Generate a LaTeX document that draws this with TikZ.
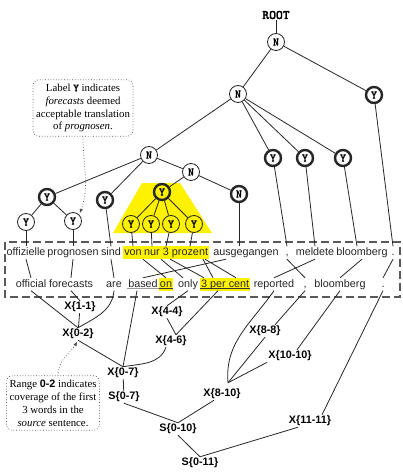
\documentclass[tikz,border=0pt]{standalone}
\usepackage{fontspec}
\setmainfont{Liberation Serif}
\setsansfont{Liberation Sans}
\newfontfamily\treefont[FakeBold=1.2]{lmmonolt10-bold.otf}
\usepackage{tikz}
\usetikzlibrary{positioning,arrows.meta,calc,backgrounds}

\begin{document}
\begin{tikzpicture}[
    x=1pt, y=-1pt,
    >=Latex,
    edge/.style    = {draw=black!85, line width=0.8pt},
    tnode/.style   = {circle, draw=black!85, line width=0.8pt, fill=white,
                      minimum size=17pt, inner sep=0pt,
                      font=\fontsize{11.5}{11.5}\treefont},
    tthick/.style  = {tnode, line width=2.4pt, minimum size=16pt},
    word/.style    = {anchor=base, inner sep=1pt, text height=8pt, text depth=2.5pt,
                      font=\fontsize{10.8}{12}\sffamily, text=black!85},
    cat/.style     = {inner sep=1pt, font=\fontsize{10.8}{12}\sffamily\bfseries},
    link/.style    = {draw=black!85, line width=0.8pt},
    uline/.style   = {draw=black!80, line width=0.6pt},
    frame/.style   = {draw=black!65, line width=1.3pt, dash pattern=on 8pt off 4pt},
    note/.style    = {rectangle, rounded corners=6pt, draw=black!70, dotted,
                      line width=0.7pt, align=center, inner xsep=3pt, inner ysep=4pt,
                      font=\fontsize{10.8}{12.9}\selectfont},
    pointer/.style = {draw=black!70, dotted, line width=0.7pt,
                      -{Latex[length=4.5pt,width=3.5pt]}, shorten >=1.5pt},
]
\useasboundingbox (0,0) rectangle (403,473);

% highlighted subtree
\fill[yellow] (142,183) -- (180,183) -- (212,233) -- (113,233) -- cycle;

% =============================== source tree ===============================
\node[font=\fontsize{13}{13}\treefont, inner sep=1pt] (ROOT) at (276,15) {ROOT};
\node[tnode]  (N0) at (276,42)  {N};
\node[tnode]  (N1) at (238,94)  {N};
\node[tthick] (Y0) at (374,95)  {Y};
\node[tnode]  (N2) at (149,155) {N};
\node[tthick] (Y1) at (273,158) {Y};
\node[tthick] (Y2) at (305,158) {Y};
\node[tthick] (Y3) at (343,158) {Y};
\node[tnode]  (N3) at (191,172) {N};
\node[tthick] (N4) at (239,194) {N};
\node[tthick] (Y4) at (47,197)  {Y};
\node[tthick] (Y5) at (105,200) {Y};
\node[tthick, fill=yellow] (YC) at (162,192) {Y};
\node[tnode]  (Y6) at (26,222)  {Y};
\node[tnode]  (Y7) at (73,221)  {Y};
\foreach \x [count=\i] in {131,151,171,194} {
    \node[tnode, fill=yellow] (YH\i) at (\x,224) {Y};
}

\draw[edge] (ROOT) -- (N0);
\draw[edge] (N0) -- (N1);
\draw[edge] (N0) -- (Y0);
\foreach \c in {N2,Y1,Y2,Y3} {
    \draw[edge] (N1) -- (\c);
}
\foreach \c in {Y4,Y5,N3} {
    \draw[edge] (N2) -- (\c);
}
\draw[edge] (N3) -- (YC);
\draw[edge] (N3) -- (N4);
\draw[edge] (Y4) -- (Y6);
\draw[edge] (Y4) -- (Y7);
\foreach \i in {1,...,4} {
    \draw[edge] (YC) -- (YH\i);
}

% =============================== sentences ================================
\node[word] (S0)  at (26,255.5)  {offizielle};
\node[word] (S1)  at (73,255.5)  {prognosen};
\node[word] (S2)  at (111,255.5) {sind};
\node[word] (S3)  at (133,255.5) {von};
\node[word] (S4)  at (152,255.5) {nur};
\node[word] (S5)  at (166,255.5) {3};
\node[word] (S6)  at (190,255.5) {prozent};
\node[word] (S7)  at (246,255.5) {ausgegangen};
\node[word] (S8)  at (287,255.5) {,};
\node[word] (S9)  at (315,255.5) {meldete};
\node[word] (S10) at (362,255.5) {bloomberg};
\node[word] (S11) at (393,255.5) {.};

\node[word] (T0)  at (31,287)  {official};
\node[word] (T1)  at (71,287)  {forecasts};
\node[word] (T2)  at (114,287) {are};
\node[word] (T3)  at (143,287) {based};
\node[word, fill=yellow] (T4) at (166,287) {on};
\node[word] (T5)  at (188,287) {only};
\node[word] (T6)  at (204,287) {3};
\node[word] (T7)  at (218,287) {per};
\node[word] (T8)  at (239,287) {cent};
\node[word] (T9)  at (274,287) {reported};
\node[word] (T10) at (305,287) {,};
\node[word] (T11) at (340,287) {bloomberg};
\node[word] (T12) at (383,287) {.};

\begin{scope}[on background layer]
  \fill[yellow] (S3.north west) rectangle (S6.south east);
  \fill[yellow] (T6.north west) rectangle (T8.south east);
\end{scope}
\draw[uline, draw=black!40] ([yshift=-1.6pt]T3.base west) -- ([yshift=-1.6pt]T3.base east);
\draw[uline] ([yshift=-1.6pt]T4.base west) -- ([yshift=-1.6pt]T4.base east);
\draw[uline] ([yshift=-1.6pt]T6.base west) -- ([yshift=-1.6pt]T8.base east);

\draw[frame] (5,242) rectangle (400,297);

% leaves down to the source words
\draw[edge] (Y6) -- (S0.north);
\draw[edge] (Y7) -- (S1.north);
\draw[edge] (Y5) -- (S2.north);
\foreach \i/\j in {1/3,2/4,3/5,4/6} {
    \draw[edge] (YH\i) -- (S\j.north);
}
\draw[edge] (N4) -- (N4 |- S7.north);
\draw[edge] (Y1) -- (S8.north);
\draw[edge] (Y2) -- (S9.north);
\draw[edge] (Y3) -- ([xshift=-5pt]S10.north);
\draw[edge] (Y0) -- (S11.north);

% word alignment
\draw[link] (S0.south) -- (T0.north);
\draw[link] (S1.south) -- (T1.north);
\draw[link] (S2.south) -- (T2.north);
\draw[link] (S3.south east) -- (T4.north);
\draw[link] (S4.south east) -- ([xshift=-5pt]T5.north);
\draw[link] (S5.south east) -- (T6.north);
\draw[link] ([xshift=13pt]S6.south) -- ([xshift=-5pt]T7.north);
\draw[link] ([xshift=15pt]S6.south) -- ([xshift=-3pt]T8.north);
\draw[link] ([xshift=-20pt]S7.south) -- (T3.north);
\draw[link] (S8.south) -- (T10.north);
\draw[link] (S9.south) -- (T9.north);
\draw[link] (S10.south) -- (T11.north);
\draw[link] (S11.south) -- (T12.north);

% =============================== derivation ===============================
\node[cat] (X11)   at (80,307)  {X\{1-1\}};
\node[cat] (X02)   at (78,334)  {X\{0-2\}};
\node[cat] (X44)   at (167,312) {X\{4-4\}};
\node[cat] (X46)   at (171,341) {X\{4-6\}};
\node[cat] (X07)   at (123,373) {X\{0-7\}};
\node[cat] (S07)   at (124,397) {S\{0-7\}};
\node[cat] (X88)   at (265,331) {X\{8-8\}};
\node[cat] (X1010) at (290,356) {X\{10-10\}};
\node[cat] (X810)  at (222,394) {X\{8-10\}};
\node[cat] (X1111) at (310,421) {X\{11-11\}};
\node[cat] (S010)  at (178,429) {S\{0-10\}};
\node[cat] (S011)  at (200,463) {S\{0-11\}};
\coordinate (J810) at ([xshift=6pt,yshift=5pt]X810.north);
\coordinate (J46)  at ([xshift=5pt]X46.north);

\draw[edge] (T0.south) -- (X02.north);
\draw[edge] (T1.south) -- (X11.north);
\draw[edge] (X11) -- (X02);
\draw[edge] (T2.south) to[out=-95,in=30] (X02.north);
\draw[edge] ([xshift=-6pt]T3.south) -- (X07.north);
\draw[edge] (T5.south) -- (X44.north);
\draw[edge] (T7.south) -- (J46);
\draw[edge] (X44.south) -- (J46);
\draw[edge] ([xshift=-5pt]X46.south) to[out=-110,in=10] (X07.north);
\draw[edge] (X02.south) -- (X07.north);
\draw[edge] (X07) -- (S07);
\draw[edge] (S07.south) -- (S010.north);
\draw[edge] ([xshift=-8pt]X810.south) -- (S010.north);
\draw[edge] (S010.south) -- (S011.north);
\draw[edge] ([xshift=-12pt]X1111.south) -- (S011.north);
\draw[edge] (T12.south) -- ([xshift=12pt]X1111.north);
\draw[edge] (T9.south) to[out=-125,in=95] (J810);
\draw[edge] (X88.south) -- (J810);
\draw[edge] (X1010.south west) -- (J810);
\draw[edge] (T10.south) -- ([xshift=10pt]X88.north);
\draw[edge] (T11.south) -- ([xshift=7pt]X1010.north);

% =============================== call-outs ================================
\node[note] (L1) at (83,108) {Label {\treefont Y} indicates\\
    \textit{forecasts} deemed\\ acceptable translation\\ of \textit{prognosen}.};
\node[note] (L2) at (53,403) {Range \textsf{\bfseries 0-2} indicates\\
    coverage of the first\\ 3 words in the\\ \textit{source} sentence.};
\draw[pointer] (L1.south) to[out=-90,in=70] (Y7.north east);
\draw[pointer] ([xshift=5pt]L2.north) to[out=90,in=-120] (X02.south);

\end{tikzpicture}
\end{document}
